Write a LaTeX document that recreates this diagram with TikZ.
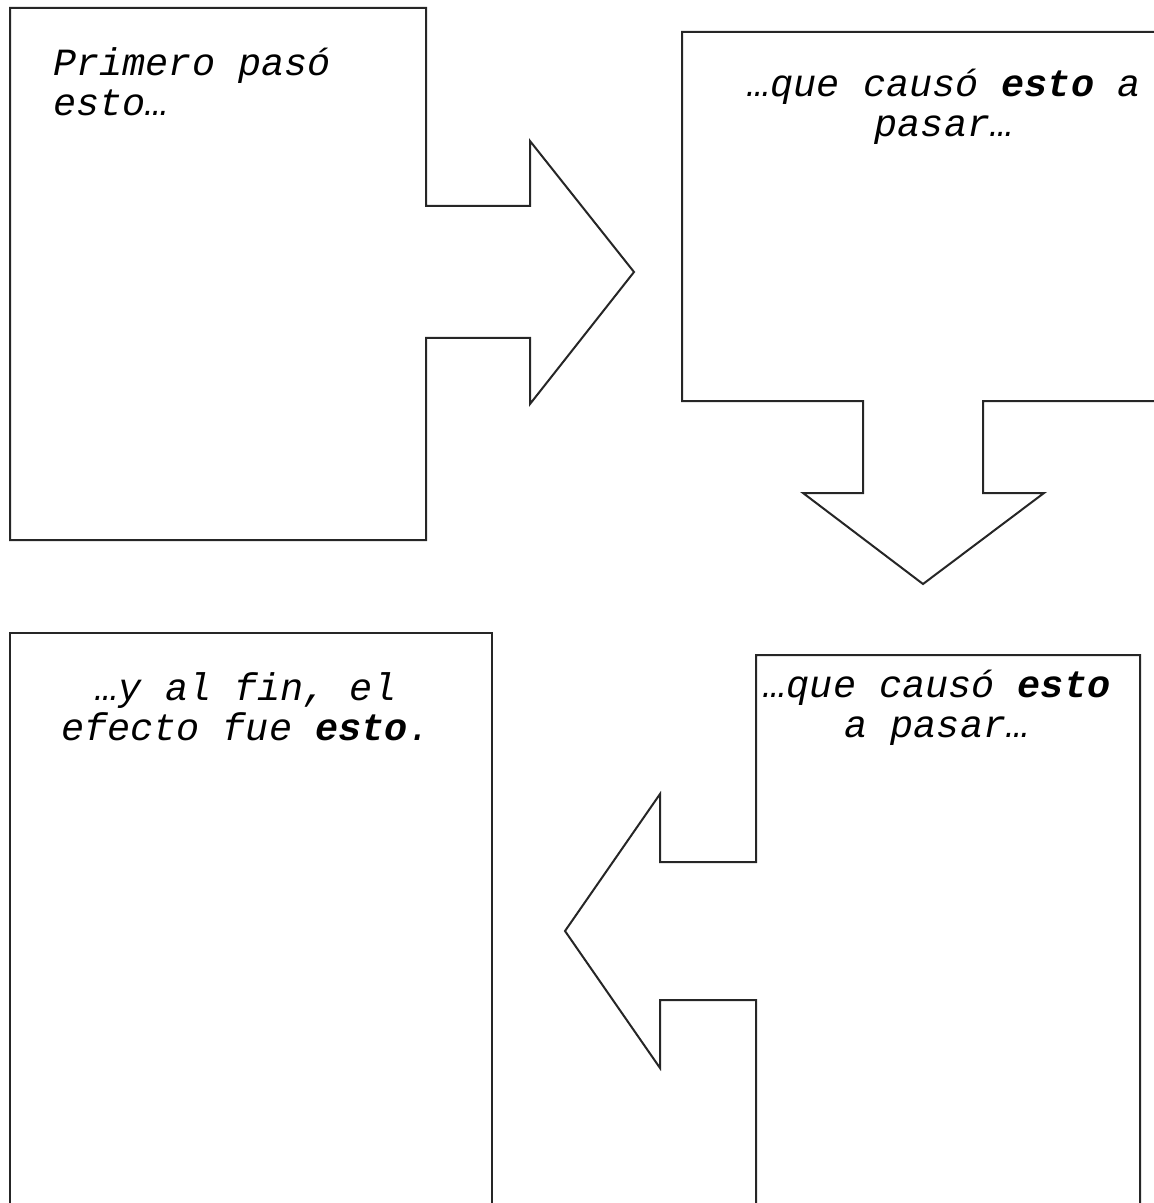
\documentclass[tikz,border=0pt]{standalone}
\usepackage{fontspec}
\newfontfamily\cour{Liberation Mono}
\begin{document}
\begin{tikzpicture}[x=0.5pt,y=-0.5pt,
  outline/.style={draw=black!85,line width=1pt,line join=miter},
  label/.style={inner sep=0pt,font=\cour\itshape\fontsize{19.25}{20}\selectfont}]
\useasboundingbox (0,0) rectangle (1154,1203);
\clip (0,0) rectangle (1154,1203);
% box 1 with right arrow
\draw[outline] (10,8) -- (426,8) -- (426,206) -- (530,206) -- (530,141) -- (634,272)
  -- (530,404) -- (530,338) -- (426,338) -- (426,540) -- (10,540) -- cycle;
% box 2 with down arrow
\draw[outline] (1170,32) -- (682,32) -- (682,401) -- (863,401) -- (863,493) -- (803,493)
  -- (923,584) -- (1044,493) -- (983,493) -- (983,401) -- (1170,401);
% box 3 with left arrow
\draw[outline] (1140,1215) -- (1140,655) -- (756,655) -- (756,862) -- (660,862) -- (660,794)
  -- (565,931) -- (660,1068) -- (660,1000) -- (756,1000) -- (756,1215);
% box 4
\draw[outline] (10,1215) -- (10,633) -- (492,633) -- (492,1215);
% texts
\node[label,anchor=base west] (t1a) at (53,76) {Primero pasó};
\node[label,anchor=base west] (t1b) at (53,116) {esto…};
\node[label,anchor=base] (t2a) at (944,97) {…que causó \textbf{esto} a};
\node[label,anchor=base] (t2b) at (944,137) {pasar…};
\node[label,anchor=base] (t3a) at (937,697) {…que causó \textbf{esto}};
\node[label,anchor=base] (t3b) at (937,737) {a pasar…};
\node[label,anchor=base] (t4a) at (246,700) {…y al fin, el};
\node[label,anchor=base] (t4b) at (246,740) {efecto fue \textbf{esto}.};
\end{tikzpicture}
\end{document}
